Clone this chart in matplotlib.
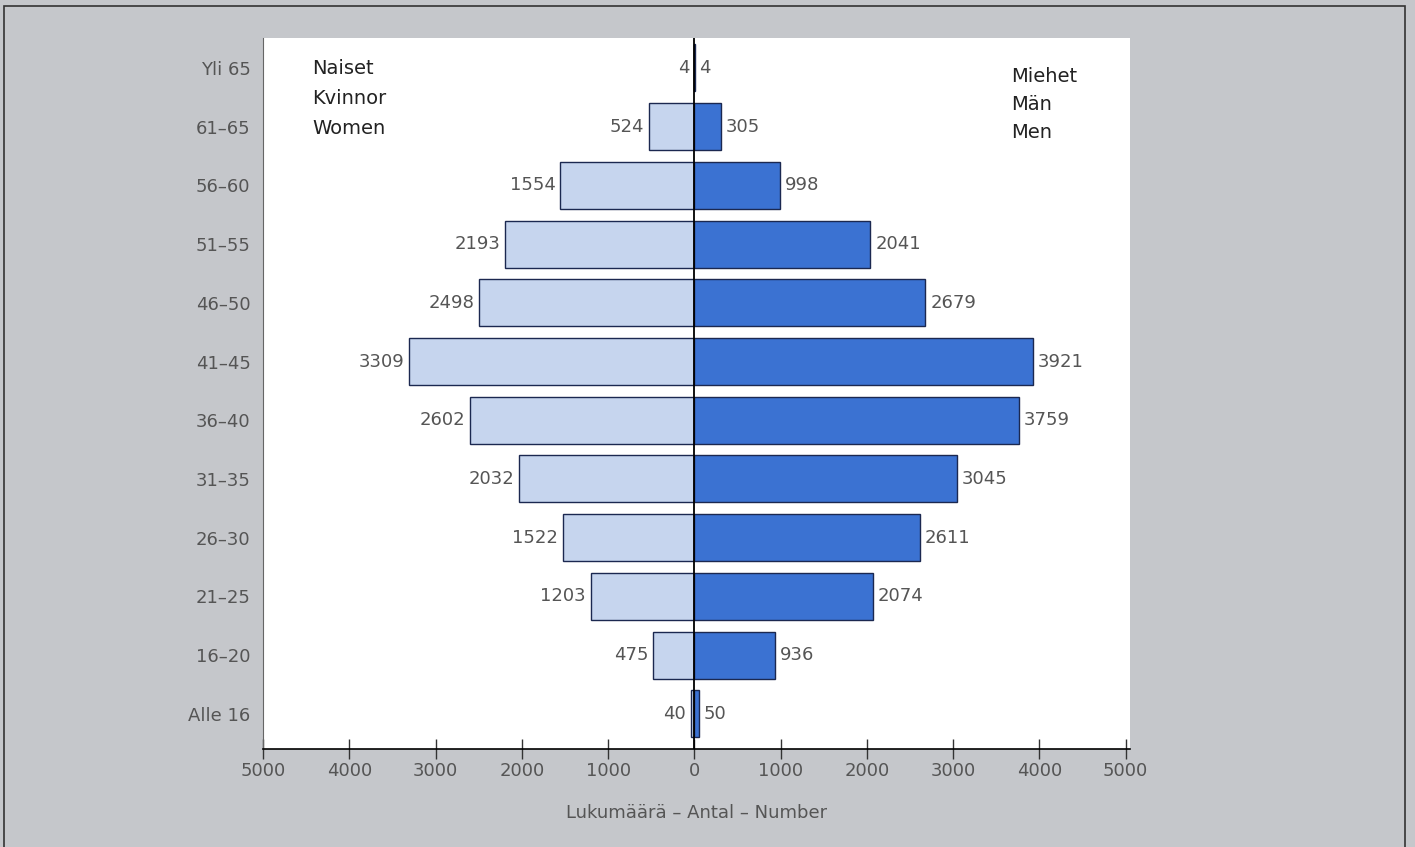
import matplotlib.pyplot as plt
from matplotlib.patches import Rectangle

# Age groups, bottom to top
age_groups = ["Alle 16", "16–20", "21–25", "26–30", "31–35", "36–40",
              "41–45", "46–50", "51–55", "56–60", "61–65", "Yli 65"]
women = [40, 475, 1203, 1522, 2032, 2602, 3309, 2498, 2193, 1554, 524, 4]
men = [50, 936, 2074, 2611, 3045, 3759, 3921, 2679, 2041, 998, 305, 4]

x_ticks = [-5000, -4000, -3000, -2000, -1000, 0, 1000, 2000, 3000, 4000, 5000]
x_ticklabels = ["5000", "4000", "3000", "2000", "1000", "0",
                "1000", "2000", "3000", "4000", "5000"]

bg = "#c5c7cb"
women_col = "#c6d5ee"
men_col = "#3b72d2"
edge = "#1b2850"
txt = "#555555"

def main():
	fig = plt.figure(figsize=(14.15, 8.47), dpi=100)
	fig.patch.set_facecolor(bg)

	# Outer frame
	fig.patches.append(Rectangle((4 / 1415, -0.01), 1401 / 1415, 1 - 6 / 847 + 0.01,
	                             transform=fig.transFigure, fill=False,
	                             edgecolor="#333333", lw=1.2))

	ax = fig.add_axes([263 / 1415, 1 - 749 / 847, 867 / 1415, 711 / 847])
	ax.set_facecolor("white")

	y = list(range(len(age_groups)))
	ax.barh(y, [-w for w in women], height=0.8, color=women_col, edgecolor=edge, lw=1)
	ax.barh(y, men, height=0.8, color=men_col, edgecolor=edge, lw=1)

	# Value labels
	for i in y:
		ax.text(-women[i] - 55, i, str(women[i]), ha="right", va="center",
		        fontsize=13, color=txt)
		ax.text(men[i] + 55, i, str(men[i]), ha="left", va="center",
		        fontsize=13, color=txt)

	ax.axvline(0, color="black", lw=1.3, zorder=3)

	ax.set_xlim(-4950, 5050)
	ax.set_ylim(-0.6, 11.51)
	ax.set_xticks(x_ticks)
	ax.set_xticklabels(x_ticklabels)
	ax.set_yticks(y)
	ax.set_yticklabels(age_groups)
	ax.tick_params(axis="x", direction="inout", length=14, width=1, colors="#333333",
	               labelsize=13, labelcolor=txt, pad=2)
	ax.tick_params(axis="y", length=0, labelsize=13, labelcolor=txt, pad=9)

	for s in ["top", "right"]:
		ax.spines[s].set_visible(False)
	ax.spines["left"].set_linewidth(0.8)
	ax.spines["left"].set_color("#666666")
	ax.spines["bottom"].set_linewidth(1.2)

	ax.text(0.057, 0.971, "Naiset\nKvinnor\nWomen", transform=ax.transAxes,
	        ha="left", va="top", fontsize=14, color="#222222", linespacing=1.75)
	ax.text(0.863, 0.959, "Miehet\nMän\nMen", transform=ax.transAxes,
	        ha="left", va="top", fontsize=14, color="#222222", linespacing=1.6)

	fig.text(697 / 1415, 1 - 813 / 847, "Lukumäärä – Antal – Number",
	         ha="center", va="center", fontsize=13, color=txt)

	fig.savefig("out.png", dpi=100, facecolor=bg)

if __name__ == '__main__':
	main()
